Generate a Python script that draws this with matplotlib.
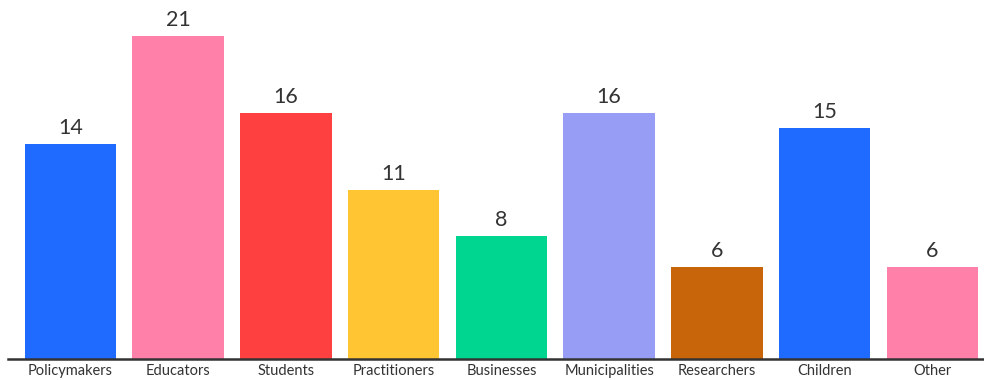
import matplotlib
matplotlib.use("Agg")
import matplotlib.pyplot as plt

categories = ["Policymakers", "Educators", "Students", "Practitioners", "Businesses",
              "Municipalities", "Researchers", "Children", "Other"]
values = [14, 21, 16, 11, 8, 16, 6, 15, 6]
colors = ["#1F6BFF", "#FF80A8", "#FF4040", "#FFC533", "#00D68F",
          "#979CF5", "#C8640A", "#1F6BFF", "#FF80A8"]

plt.rcParams['font.family'] = ['Lato', 'DejaVu Sans']

fig = plt.figure(figsize=(9.84, 3.8), dpi=100)
ax = fig.add_axes([8 / 984, 21 / 380, 1 - 8 / 984, 1 - 21 / 380])

x = range(len(categories))
bars = ax.bar(x, values, width=0.85, color=colors)
for b, v in zip(bars, values):
    ax.text(b.get_x() + b.get_width() / 2, v + 0.4, str(v), ha='center', va='bottom',
            fontsize=15.5, color='#333333')

ax.set_xlim(-0.58, 8.48)
ax.set_ylim(0, 23.34)
ax.set_xticks(list(x))
ax.set_xticklabels(categories, fontsize=10.5, color='#333333')
ax.tick_params(axis='x', length=0, pad=3.5)
ax.set_yticks([])
for s in ['top', 'right', 'left']:
    ax.spines[s].set_visible(False)
ax.spines['bottom'].set_color('#333333')
ax.spines['bottom'].set_linewidth(1.8)

fig.savefig("out.png", dpi=100)
